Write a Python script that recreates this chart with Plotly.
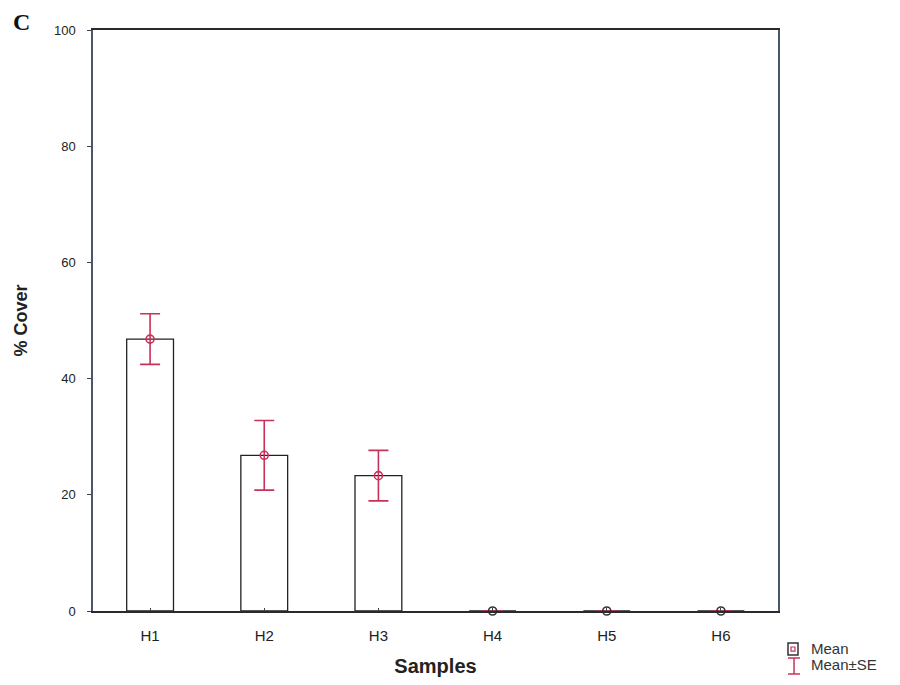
import plotly.graph_objects as go

categories = ["H1", "H2", "H3", "H4", "H5", "H6"]
mean_cover = [46.8, 26.8, 23.3, 0, 0, 0]
se_cover = [4.35, 6.0, 4.35, 0, 0, 0]
y_ticks = [0, 20, 40, 60, 80, 100]

RED = "#c8325a"
AX = "#3c4250"
marker_cols = [RED if v > 0 else "#333333" for v in mean_cover]

fig = go.Figure()
fig.add_trace(go.Bar(
    x=categories, y=mean_cover, width=0.41,
    marker=dict(color="white", line=dict(color="#222222", width=1.3)),
    showlegend=False, hoverinfo="skip"))
fig.add_trace(go.Scatter(
    x=categories, y=mean_cover, mode="markers",
    marker=dict(symbol="circle-open", size=8, color=marker_cols, line=dict(width=1.6)),
    error_y=dict(type="data", array=se_cover, visible=True, color=RED,
                 thickness=1.6, width=10),
    cliponaxis=False, showlegend=False))

fig.update_layout(
    width=900, height=685,
    margin=dict(l=85, r=130, t=22, b=82),
    paper_bgcolor="white", plot_bgcolor="white",
    font=dict(family="Liberation Sans, Arial, sans-serif", color="#222222"),
    xaxis=dict(range=[-0.5, 5.5], showline=True, linecolor="#2a2a2a", linewidth=1.5,
               mirror=True, ticks="inside", ticklen=3, tickcolor=AX,
               tickfont=dict(size=15), ticklabelstandoff=10,
               title=dict(text="<b>Samples</b>", font=dict(size=20), standoff=16),
               showgrid=False, zeroline=False),
    yaxis=dict(range=[0, 100], tickvals=y_ticks, showline=True, linecolor="#4a5670",
               linewidth=1.5, mirror=True, ticks="outside", ticklen=4, tickcolor=AX,
               tickfont=dict(size=13), ticklabelstandoff=9,
               title=dict(text="<b>% Cover</b>", font=dict(size=18), standoff=22),
               showgrid=False, zeroline=False),
)

# Panel letter
fig.add_annotation(text="<b>C</b>", xref="paper", yref="paper", x=-0.105, y=1.014,
                   xanchor="center", yanchor="middle",
                   showarrow=False, font=dict(family="Liberation Serif, serif", size=24, color="#111"))

# Legend (decoration)
fig.add_shape(type="rect", xref="paper", yref="paper", x0=1.0146, x1=1.0292, y0=-0.0551, y1=-0.0757,
              line=dict(color="#333", width=1.5))
fig.add_shape(type="rect", xref="paper", yref="paper", x0=1.0190, x1=1.0248, y0=-0.0620, y1=-0.0690,
              line=dict(color=RED, width=1.2))
fig.add_shape(type="line", xref="paper", yref="paper", x0=1.0234, x1=1.0234, y0=-0.0809, y1=-0.1084,
              line=dict(color=RED, width=1.5))
fig.add_shape(type="line", xref="paper", yref="paper", x0=1.0146, x1=1.0321, y0=-0.0809, y1=-0.0809,
              line=dict(color=RED, width=1.5))
fig.add_shape(type="line", xref="paper", yref="paper", x0=1.0146, x1=1.0321, y0=-0.1084, y1=-0.1084,
              line=dict(color=RED, width=1.5))
fig.add_annotation(text="Mean", xref="paper", yref="paper", x=1.0450, y=-0.0654, xanchor="left",
                   yanchor="middle", showarrow=False, font=dict(size=15, color="#333"))
fig.add_annotation(text="Mean±SE", xref="paper", yref="paper", x=1.0450, y=-0.0929, xanchor="left",
                   yanchor="middle", showarrow=False, font=dict(size=15, color="#333"))

fig.write_html("out.html")
